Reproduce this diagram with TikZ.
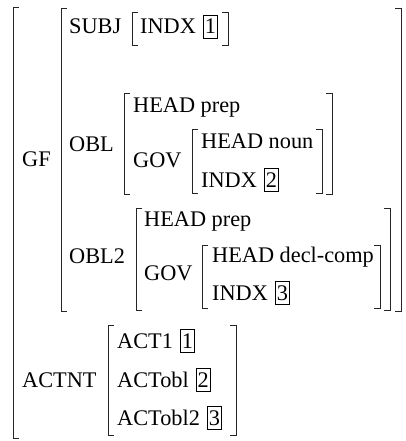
\documentclass[tikz,border=0pt]{standalone}
\usepackage{fontspec}
\setmainfont{Liberation Serif}
\usetikzlibrary{positioning}

% brackets of the matrix: x, top y, bottom y
\newcommand{\lbrk}[3]{\draw[brk] (#1+6,#2) -- (#1,#2) -- (#1,#3) -- (#1+6,#3);}
\newcommand{\rbrk}[3]{\draw[brk] (#1-6,#2) -- (#1,#2) -- (#1,#3) -- (#1-6,#3);}

\begin{document}
\begin{tikzpicture}[
	x=1pt, y=-1pt,
	font=\fontsize{22.3}{26}\selectfont,
	% Feature names and values
	feat/.style={anchor=base west, inner sep=0pt},
	% Boxed tags
	tagbox/.style={draw, line width=0.6pt, inner xsep=1.5pt, inner ysep=1.5pt,
		text height=17.5pt, text depth=3pt},
	% Bracket lines
	brk/.style={line width=0.8pt, black!85}
	]
	\useasboundingbox (0,0) rectangle (405,441);
	
	% --- OUTER MATRIX ---
	\lbrk{13}{7}{438}
	\node[feat] (GF) at (22,166) {GF};
	\node[feat] (ACTNT) at (22,387) {ACTNT};
	
	% --- GF ---
	\lbrk{61}{8}{311}
	\rbrk{401}{8}{311}
	\node[feat] (SUBJ) at (69,34) {SUBJ};
	\node[feat] (OBL) at (69,151) {OBL};
	\node[feat] (OBLtwo) at (69,263) {OBL2};
	
	% SUBJ value
	\lbrk{132}{12}{45}
	\rbrk{228}{12}{45}
	\node[feat] (indxA) at (140,34) {INDX};
	\node[tagbox, base right=7pt of indxA] (tagA) {1};
	
	% OBL value
	\lbrk{124}{93}{194}
	\rbrk{332}{93}{194}
	\node[feat] (headA) at (133,112) {HEAD prep};
	\node[feat] (govA) at (133,167) {GOV};
	\lbrk{192}{129}{193}
	\rbrk{322}{129}{193}
	\node[feat] (headB) at (201,148) {HEAD noun};
	\node[feat] (indxB) at (201,187) {INDX};
	\node[tagbox, base right=7pt of indxB] (tagB) {2};
	
	% OBL2 value
	\lbrk{136}{208}{310}
	\rbrk{390}{208}{310}
	\node[feat] (headC) at (144,226) {HEAD prep};
	\node[feat] (govB) at (144,280) {GOV};
	\lbrk{202}{245}{308}
	\rbrk{380}{245}{308}
	\node[feat] (headD) at (212,262) {HEAD decl-comp};
	\node[feat] (indxC) at (212,300) {INDX};
	\node[tagbox, base right=7pt of indxC] (tagC) {3};
	
	% --- ACTNT ---
	\lbrk{108}{325}{435}
	\rbrk{236}{325}{435}
	\node[feat] (actA) at (117,348) {ACT1};
	\node[tagbox, base right=7pt of actA] (tagD) {1};
	\node[feat] (actB) at (117,387) {ACTobl};
	\node[tagbox, base right=7pt of actB] (tagE) {2};
	\node[feat] (actC) at (117,425) {ACTobl2};
	\node[tagbox, base right=7pt of actC] (tagF) {3};
	
\end{tikzpicture}
\end{document}
